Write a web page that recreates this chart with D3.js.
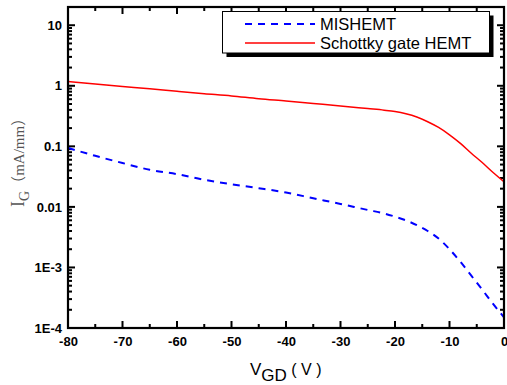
<!DOCTYPE html>
<html>
<head>
<meta charset="utf-8">
<script src="https://cdn.jsdelivr.net/npm/d3@7"></script>
<style>
  body { margin: 0; background: #fff; }
  svg { display: block; }
  .tick text { font-family: "Liberation Sans", Arial, sans-serif; font-weight: bold; font-size: 13px; fill: #000; }
</style>
</head>
<body>
<svg id="chart" width="507" height="385"></svg>
<script>
// V_GD sample points (V)
const vgd = [-80, -75, -70, -65, -60, -55, -50, -45, -40, -35, -30, -25, -22, -20, -18, -16, -14, -12, -10, -8, -6, -4, -2, 0];
// gate current, mA/mm
const schottkyIg = [1.18, 1.07, 0.975, 0.89, 0.81, 0.74, 0.68, 0.61, 0.56, 0.51, 0.465, 0.42, 0.395, 0.375, 0.345, 0.305, 0.255, 0.205, 0.155, 0.112, 0.077, 0.054, 0.037, 0.026];
const misIg = [0.094, 0.0697, 0.053, 0.041, 0.0347, 0.028, 0.0237, 0.0204, 0.0173, 0.0139, 0.0112, 0.0089, 0.0078, 0.0069, 0.0060, 0.0050, 0.0040, 0.0030, 0.0020, 0.00124, 0.00073, 0.00043, 0.00025, 0.00015];

const xTicks = [-80, -70, -60, -50, -40, -30, -20, -10, 0];
const yTicks = [10, 1, 0.1, 0.01, 1e-3, 1e-4];
const yTickLabels = ["10", "1", "0.1", "0.01", "1E-3", "1E-4"];
const seriesNames = ["MISHEMT", "Schottky gate HEMT"];

const svg = d3.select("#chart");
const plotL = 68, plotR = 504, plotT = 7, plotB = 328;

const x = d3.scaleLinear().domain([-80, 0]).range([plotL, plotR]);
const y = d3.scaleLog().domain([1e-4, 20]).range([plotB, plotT]);

// minor ticks
const xMinor = d3.range(-75, 0, 10);
const yMinor = [];
for (let e = -4; e <= 1; e++) {
  for (let m = 2; m <= 9; m++) {
    const v = m * Math.pow(10, e);
    if (v <= 20) yMinor.push(v);
  }
}

// tick labels via d3 axes
const gx = svg.append("g").attr("transform", `translate(0,${plotB})`)
  .call(d3.axisBottom(x).tickValues(xTicks).tickSize(0).tickPadding(9).tickFormat(d => String(d)));
gx.select(".domain").remove();

const gy = svg.append("g").attr("transform", `translate(${plotL},0)`)
  .call(d3.axisLeft(y).tickValues(yTicks).tickSize(0).tickPadding(6)
    .tickFormat((d, i) => yTickLabels[i]));
gy.select(".domain").remove();

// inward tick marks on all four sides, drawn as small filled bars
const tw = 2;
const tickG = svg.append("g").attr("fill", "#000");
function xTickMarks(vals, len) {
  tickG.selectAll(null).data(vals).enter().append("rect")
    .attr("x", d => x(d) - tw / 2).attr("y", plotB - len).attr("width", tw).attr("height", len);
  tickG.selectAll(null).data(vals).enter().append("rect")
    .attr("x", d => x(d) - tw / 2).attr("y", plotT).attr("width", tw).attr("height", len);
}
function yTickMarks(vals, len) {
  tickG.selectAll(null).data(vals).enter().append("rect")
    .attr("x", plotL).attr("y", d => y(d) - tw / 2).attr("width", len).attr("height", tw);
  tickG.selectAll(null).data(vals).enter().append("rect")
    .attr("x", plotR - len).attr("y", d => y(d) - tw / 2).attr("width", len).attr("height", tw);
}
xTickMarks(xTicks, 7);
xTickMarks(xMinor, 4);
yTickMarks(yTicks, 7);
yTickMarks(yMinor, 4);

// curves
const line = (vals) => d3.line()
  .x((d, i) => x(vgd[i]))
  .y(d => y(d))
  .curve(d3.curveMonotoneX)(vals);

svg.append("path").attr("d", line(schottkyIg))
  .attr("fill", "none").attr("stroke", "#ff0000").attr("stroke-width", 1.5);
svg.append("path").attr("d", line(misIg))
  .attr("fill", "none").attr("stroke", "#0000ff").attr("stroke-width", 2)
  .attr("stroke-dasharray", "7,6");

// frame
svg.append("rect").attr("x", plotL).attr("y", plotT)
  .attr("width", plotR - plotL).attr("height", plotB - plotT)
  .attr("fill", "none").attr("stroke", "#000").attr("stroke-width", 2.2);

// legend
const lg = svg.append("g");
lg.append("rect").attr("x", 226.5).attr("y", 15.5).attr("width", 267).attr("height", 41.5).attr("fill", "#000");
lg.append("rect").attr("x", 222.5).attr("y", 11.5).attr("width", 267).attr("height", 41.5)
  .attr("fill", "#fff").attr("stroke", "#000").attr("stroke-width", 1);
const legendRows = [
  { name: seriesNames[0], color: "#0000ff", dash: "7,6", w: 2, yy: 24 },
  { name: seriesNames[1], color: "#ff0000", dash: null, w: 1.5, yy: 43 }
];
legendRows.forEach(r => {
  lg.append("line").attr("x1", 245).attr("x2", 315).attr("y1", r.yy).attr("y2", r.yy)
    .attr("stroke", r.color).attr("stroke-width", r.w).attr("stroke-dasharray", r.dash);
  lg.append("text").attr("x", 320).attr("y", r.yy + 6)
    .attr("font-family", "Liberation Sans, Arial, sans-serif").attr("font-size", 16.5)
    .text(r.name);
});

// axis titles
const xt = svg.append("text").attr("x", 250).attr("y", 375)
  .attr("font-family", "Liberation Sans, Arial, sans-serif").attr("font-size", 17);
xt.append("tspan").text("V");
xt.append("tspan").attr("dy", 6).attr("font-size", 17).text("GD");
xt.append("tspan").attr("dy", -6).attr("font-size", 16).text(" ( V )");

const yt = svg.append("text").attr("transform", "translate(24,207) rotate(-90)")
  .attr("font-family", "Liberation Serif, Times New Roman, serif").attr("font-size", 18).attr("fill", "#555");
yt.append("tspan").text("I");
yt.append("tspan").attr("dy", 5).attr("font-size", 14).text("G");
yt.append("tspan").attr("dy", -5).attr("font-size", 15)
  .attr("font-family", "Noto Sans CJK SC, Liberation Serif, serif").text("（");
yt.append("tspan").attr("font-size", 15).text("mA/mm");
yt.append("tspan").attr("font-size", 15)
  .attr("font-family", "Noto Sans CJK SC, Liberation Serif, serif").text("）");
</script>
</body>
</html>
